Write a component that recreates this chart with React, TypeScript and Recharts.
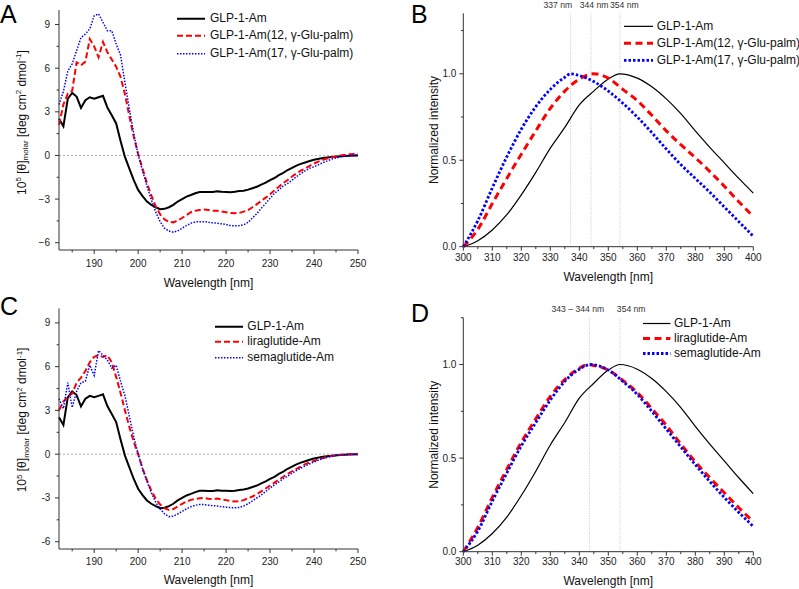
import React from 'react';
import { LineChart, Line, XAxis, YAxis, ReferenceLine, Legend } from 'recharts';

const FONT = '"Liberation Sans", Arial, Helvetica, sans-serif';
const AXIS = '#333';
const TEXT = '#222';

// ---------- CD spectra (panels A, C) ----------
const CD_WL = [
  182, 183, 184, 185, 186, 187, 188, 189, 190, 191,
  192, 193, 194, 195, 196, 197, 198, 199, 200, 201,
  202, 203, 204, 205, 206, 207, 208, 209, 210, 211,
  212, 213, 214, 215, 216, 217, 218, 219, 220, 221,
  222, 223, 224, 225, 226, 227, 228, 229, 230, 231,
  232, 233, 234, 235, 236, 237, 238, 239, 240,
  242, 244, 246, 248, 250,
];
const GLP1_CD = [
  2.53, 2.0, 3.9, 4.3, 4.05, 3.27, 3.8, 4.0, 3.9, 4.0,
  4.1, 3.3, 2.76, 2.2, 1.0, -0.1, -0.9, -1.7, -2.37, -2.8,
  -3.17, -3.4, -3.56, -3.7, -3.67, -3.56, -3.4, -3.17, -3.0, -2.83,
  -2.72, -2.6, -2.51, -2.51, -2.52, -2.52, -2.47, -2.5, -2.51, -2.53,
  -2.5, -2.45, -2.42, -2.35, -2.25, -2.15, -2.0, -1.87, -1.69, -1.55,
  -1.35, -1.2, -1.0, -0.85, -0.7, -0.58, -0.48, -0.38, -0.3,
  -0.18, -0.1, -0.05, -0.02, 0,
];
const A12_CD = [
  2.1, 3.5, 4.25, 4.45, 6.4, 6.2, 6.45, 8.0, 7.5, 6.75,
  7.8, 7.1, 6.6, 6.1, 5.4, 4.2, 2.7, 1.3, 0.1, -0.9,
  -1.9, -2.75, -3.5, -4.05, -4.4, -4.56, -4.6, -4.47, -4.3, -4.1,
  -3.9, -3.8, -3.75, -3.72, -3.75, -3.8, -3.8, -3.85, -3.9, -3.95,
  -3.97, -3.95, -3.86, -3.75, -3.56, -3.35, -3.13, -2.9, -2.67, -2.4,
  -2.15, -1.9, -1.69, -1.45, -1.23, -1.05, -0.89, -0.72, -0.55,
  -0.3, -0.12, 0.0, 0.08, 0.12,
];
const A17_CD = [
  3.5, 4.4, 5.8, 6.3, 7.2, 8.1, 8.35, 8.7, 9.6, 9.73,
  9.15, 8.58, 8.58, 7.67, 6.9, 5.0, 3.2, 1.5, 0.05, -1.05,
  -2.1, -3.05, -3.9, -4.55, -5.0, -5.2, -5.27, -5.18, -5.0, -4.82,
  -4.66, -4.57, -4.55, -4.55, -4.6, -4.63, -4.66, -4.7, -4.75, -4.82,
  -4.84, -4.82, -4.77, -4.6, -4.3, -4.0, -3.63, -3.3, -2.95, -2.6,
  -2.37, -2.1, -1.92, -1.7, -1.46, -1.25, -1.05, -0.88, -0.78,
  -0.5, -0.25, -0.1, -0.02, 0.05,
];
const LIRA_CD = [
  3.0, 3.6, 3.95, 4.15, 4.9, 5.25, 5.7, 6.3, 6.67, 6.78,
  6.67, 6.78, 6.3, 5.3, 4.2, 3.0, 1.87, 0.84, 0, -0.98,
  -1.78, -2.5, -3.05, -3.45, -3.7, -3.82, -3.76, -3.58, -3.4, -3.25,
  -3.13, -3.07, -3.02, -3.0, -3.05, -3.08, -3.04, -3.1, -3.15, -3.2,
  -3.25, -3.22, -3.15, -3.02, -2.9, -2.73, -2.55, -2.35, -2.15, -1.95,
  -1.75, -1.55, -1.35, -1.17, -1.0, -0.85, -0.68, -0.57, -0.46,
  -0.27, -0.12, -0.04, 0, 0,
];
const SEMA_CD = [
  3.8, 3.13, 4.9, 3.2, 4.3, 4.9, 5.0, 6.1, 5.4, 7.1,
  6.78, 6.45, 5.9, 6.1, 5.0, 4.0, 2.6, 1.19, 0, -1.0,
  -1.85, -2.65, -3.3, -3.75, -4.1, -4.28, -4.25, -4.1, -3.92, -3.75,
  -3.6, -3.5, -3.45, -3.45, -3.5, -3.53, -3.55, -3.6, -3.63, -3.66,
  -3.68, -3.65, -3.55, -3.4, -3.2, -3.0, -2.8, -2.55, -2.33, -2.1,
  -1.9, -1.68, -1.5, -1.3, -1.12, -0.95, -0.8, -0.66, -0.53,
  -0.3, -0.14, -0.05, 0, 0,
];

// ---------- Fluorescence spectra (panels B, D) ----------
const FL_WL_GLP = [300, 305, 310, 315, 320, 325, 330, 335, 340, 345, 350, 354, 360, 365, 370, 375, 380, 385, 390, 395, 400];
const GLP1_FL = [0, 0.035, 0.097, 0.185, 0.3, 0.43, 0.57, 0.69, 0.82, 0.9, 0.97, 1.0, 0.975, 0.925, 0.855, 0.77, 0.67, 0.575, 0.485, 0.395, 0.31];
const FL_WL_12 = [300, 305, 310, 315, 320, 325, 330, 335, 340, 345, 350, 355, 360, 365, 370, 375, 380, 385, 390, 395, 400];
const A12_FL = [0, 0.1, 0.25, 0.395, 0.535, 0.67, 0.8, 0.9, 0.97, 1.0, 0.975, 0.91, 0.845, 0.76, 0.67, 0.59, 0.515, 0.435, 0.35, 0.26, 0.175];
const FL_WL_17 = [300, 305, 310, 315, 320, 325, 330, 335, 337, 340, 345, 350, 355, 360, 365, 370, 375, 380, 385, 390, 395, 400];
const A17_FL = [0, 0.15, 0.34, 0.52, 0.68, 0.81, 0.91, 0.98, 1.0, 0.99, 0.955, 0.9, 0.83, 0.75, 0.66, 0.565, 0.475, 0.395, 0.315, 0.23, 0.145, 0.06];
const FL_WL_LIRA = [300, 305, 310, 315, 320, 325, 330, 335, 340, 343, 345, 350, 355, 360, 365, 370, 375, 380, 385, 390, 395, 400];
const LIRA_FL = [0, 0.13, 0.29, 0.44, 0.585, 0.71, 0.83, 0.92, 0.98, 1.0, 0.995, 0.97, 0.915, 0.85, 0.765, 0.675, 0.575, 0.48, 0.395, 0.315, 0.235, 0.16];
const FL_WL_SEMA = [300, 305, 310, 315, 320, 325, 330, 335, 340, 344, 350, 355, 360, 365, 370, 375, 380, 385, 390, 395, 400];
const SEMA_FL = [0, 0.11, 0.27, 0.42, 0.565, 0.69, 0.81, 0.91, 0.975, 1.0, 0.97, 0.91, 0.84, 0.75, 0.655, 0.56, 0.465, 0.375, 0.29, 0.21, 0.135];

// ---------- names, ticks, reference lines ----------
const NAMES_AB = ['GLP-1-Am', 'GLP-1-Am(12, \u03b3-Glu-palm)', 'GLP-1-Am(17, \u03b3-Glu-palm)'];
const NAMES_CD = ['GLP-1-Am', 'liraglutide-Am', 'semaglutide-Am'];

const CD_XTICKS = [185, 190, 195, 200, 205, 210, 215, 220, 225, 230, 235, 240, 245, 250];
const CD_XMAJOR = [190, 200, 210, 220, 230, 240, 250];
const CD_YTICKS = [-6, -4.5, -3, -1.5, 0, 1.5, 3, 4.5, 6, 7.5, 9];
const CD_YMAJOR = [-6, -3, 0, 3, 6, 9];
const FL_XTICKS = [300, 305, 310, 315, 320, 325, 330, 335, 340, 345, 350, 355, 360, 365, 370, 375, 380, 385, 390, 395, 400];
const FL_XMAJOR = [300, 310, 320, 330, 340, 350, 360, 370, 380, 390, 400];
const FL_YTICKS = [0, 0.25, 0.5, 0.75, 1.0, 1.25];
const FL_YMAJOR = [0, 0.5, 1.0];

const REF_B = [337, 344, 354];
const REF_B_LABELS = ['337 nm', '344 nm', '354 nm'];
const REF_D = [343.5, 354];
const REF_D_LABELS = ['343 \u2013 344 nm', '354 nm'];

// ---------- styles ----------
const CD_STYLES = [
  { color: '#000000', width: 2, dash: undefined as string | undefined },
  { color: '#ff0000', width: 2, dash: '6 3' },
  { color: '#0000ff', width: 1.5, dash: '1.5 1.5' },
];
const FL_STYLES = [
  { color: '#000000', width: 1.2, dash: undefined as string | undefined },
  { color: '#ff0000', width: 3, dash: '7 4.5' },
  { color: '#0000ff', width: 2.8, dash: '2.5 2' },
];

const toPoints = (xs: number[], ys: number[]) => xs.map((x, i) => ({ x, y: ys[i] }));
const near = (arr: number[], v: number) => arr.some((m) => Math.abs(m - v) < 1e-6);

function makeXTick(majors: number[], fmt: (v: number) => string, ts: number, tm: number) {
  return function XTick(props: any) {
    const { x, y, payload } = props;
    const v = payload.value;
    const major = near(majors, v);
    const y0 = y - ts - tm;
    return (
      <g>
        <line x1={x} x2={x} y1={y0} y2={y0 + (major ? ts : ts * 0.6)} stroke={AXIS} strokeWidth={1} />
        {major && (
          <text x={x} y={y} dy="0.71em" textAnchor="middle" fontSize={10} fontFamily={FONT} fill={TEXT}>
            {fmt(v)}
          </text>
        )}
      </g>
    );
  };
}

function makeYTick(majors: number[], fmt: (v: number) => string, ts: number, tm: number) {
  return function YTick(props: any) {
    const { x, y, payload } = props;
    const v = payload.value;
    const major = near(majors, v);
    const x0 = x + tm + ts;
    return (
      <g>
        <line x1={x0 - (major ? ts : ts * 0.6)} x2={x0} y1={y} y2={y} stroke={AXIS} strokeWidth={1} />
        {major && (
          <text x={x} y={y} dy="0.355em" textAnchor="end" fontSize={10} fontFamily={FONT} fill={TEXT}>
            {fmt(v)}
          </text>
        )}
      </g>
    );
  };
}

function XTitle(props: any) {
  const vb = props.viewBox || {};
  return (
    <text x={vb.x + vb.width / 2} y={vb.y + props.off} textAnchor="middle" fontSize={12} fontFamily={FONT} fill="#111">
      Wavelength [nm]
    </text>
  );
}

function CDYTitle(props: any) {
  const vb = props.viewBox || {};
  const cy = vb.y + vb.height / 2 + props.shift;
  const bx = props.bx;
  return (
    <text
      transform={`rotate(-90 ${bx} ${cy})`}
      x={bx}
      y={cy}
      textAnchor="middle"
      fontSize={12}
      fontFamily={FONT}
      fill="#111"
      style={{ whiteSpace: 'pre' }}
    >
      <tspan>10</tspan>
      <tspan dy={-4.5} fontSize={8}>5</tspan>
      <tspan dy={4.5}> [θ]</tspan>
      <tspan dy={2.5} fontSize={8}>molar</tspan>
      <tspan dy={-2.5}> [deg cm</tspan>
      <tspan dy={-4.5} fontSize={8}>2</tspan>
      <tspan dy={4.5}> dmol</tspan>
      <tspan dy={-4.5} fontSize={8}>-1</tspan>
      <tspan dy={4.5}>]</tspan>
    </text>
  );
}

function FLYTitle(props: any) {
  const vb = props.viewBox || {};
  const cy = vb.y + vb.height / 2 + props.shift;
  const bx = props.bx;
  return (
    <text transform={`rotate(-90 ${bx} ${cy})`} x={bx} y={cy} textAnchor="middle" fontSize={12} fontFamily={FONT} fill="#111">
      Normalized intensity
    </text>
  );
}

function RefLabel(props: any) {
  const vb = props.viewBox || {};
  return (
    <text x={vb.x + props.dx} y={vb.y - props.off} textAnchor="middle" fontSize={8.6} fontFamily={FONT} fill="#333">
      {props.text}
    </text>
  );
}

function LegendBox({ names, styles, rowH, sw, gap }: any) {
  return (
    <div style={{ fontFamily: FONT, fontSize: 12, color: '#111', whiteSpace: 'nowrap' }}>
      {names.map((n: string, i: number) => (
        <div key={n} style={{ height: rowH, display: 'flex', alignItems: 'center' }}>
          <svg width={sw} height={rowH} style={{ display: 'block', flex: 'none' }}>
            <line
              x1={0}
              x2={sw}
              y1={rowH / 2}
              y2={rowH / 2}
              stroke={styles[i].color}
              strokeWidth={styles[i].width}
              strokeDasharray={styles[i].dash}
            />
          </svg>
          <span style={{ marginLeft: gap, lineHeight: `${rowH}px` }}>{n}</span>
        </div>
      ))}
    </div>
  );
}

const fmtInt = (v: number) => String(v);
const fmtMinus = (v: number) => String(v).replace('-', '\u2212');
const fmt1 = (v: number) => v.toFixed(1);

function CDPanel(props: any) {
  const { left, top, height, plotTop, names, ys, yFmt, legend, xOff, yTitle, ytm, xtm } = props;
  const xAxisH = 40;
  const bottom = height - plotTop - props.plotH - xAxisH;
  return (
    <div style={{ position: 'absolute', left, top }}>
      <LineChart width={400} height={height} margin={{ top: plotTop, right: 42, bottom, left: 0 }}>
        <XAxis
          type="number"
          dataKey="x"
          domain={[182, 250]}
          ticks={CD_XTICKS}
          interval={0}
          tickLine={false}
          tickSize={4}
          tickMargin={xtm}
          tick={makeXTick(CD_XMAJOR, fmtInt, 4, xtm)}
          height={xAxisH}
          axisLine={{ stroke: AXIS, strokeWidth: 1 }}
          label={<XTitle off={xOff} />}
        />
        <YAxis
          type="number"
          domain={[-6.5, 10]}
          ticks={CD_YTICKS}
          interval={0}
          tickLine={false}
          tickSize={4}
          tickMargin={ytm}
          tick={makeYTick(CD_YMAJOR, yFmt, 4, ytm)}
          width={59}
          axisLine={{ stroke: AXIS, strokeWidth: 1 }}
          label={<CDYTitle bx={yTitle.bx} shift={yTitle.shift} />}
        />
        <ReferenceLine y={0} stroke="#999" strokeDasharray="2 2" strokeWidth={0.8} />
        {ys.map((arr: number[], i: number) => (
          <Line
            key={names[i]}
            data={toPoints(CD_WL, arr)}
            dataKey="y"
            name={names[i]}
            type="linear"
            stroke={CD_STYLES[i].color}
            strokeWidth={CD_STYLES[i].width}
            strokeDasharray={CD_STYLES[i].dash}
            dot={false}
            activeDot={false}
            isAnimationActive={false}
          />
        ))}
        <Legend
          layout="vertical"
          align="center"
          verticalAlign="middle"
          wrapperStyle={{ left: legend.left, top: legend.top, width: 'auto', height: 'auto', margin: 0, padding: 0 }}
          content={() => <LegendBox names={names} styles={CD_STYLES} rowH={legend.rowH} sw={legend.sw} gap={legend.gap} />}
        />
      </LineChart>
    </div>
  );
}

function FLPanel(props: any) {
  const { left, top, height, plotTop, plotH, yMax, series, names, refs, refLabels, refDx, refOff, legend, xOff, yTitle, xtm } = props;
  const xAxisH = 32;
  const bottom = height - plotTop - plotH - xAxisH;
  return (
    <div style={{ position: 'absolute', left, top }}>
      <LineChart width={399} height={height} margin={{ top: plotTop, right: 45.7, bottom, left: 0 }}>
        <XAxis
          type="number"
          dataKey="x"
          domain={[300, 400]}
          ticks={FL_XTICKS}
          interval={0}
          tickLine={false}
          tickSize={4}
          tickMargin={xtm}
          tick={makeXTick(FL_XMAJOR, fmtInt, 4, xtm)}
          height={xAxisH}
          axisLine={{ stroke: AXIS, strokeWidth: 1 }}
          label={<XTitle off={xOff} />}
        />
        <YAxis
          type="number"
          domain={[0, yMax]}
          ticks={FL_YTICKS}
          interval={0}
          tickLine={false}
          tickSize={4}
          tickMargin={3}
          tick={makeYTick(FL_YMAJOR, fmt1, 4, 3)}
          width={63.3}
          axisLine={{ stroke: AXIS, strokeWidth: 1 }}
          label={<FLYTitle bx={yTitle.bx} shift={yTitle.shift} />}
        />
        {refs.map((r: number, i: number) => (
          <ReferenceLine
            key={r}
            x={r}
            stroke="#c4c4c4"
            strokeDasharray="1 1.5"
            strokeWidth={1}
            label={<RefLabel text={refLabels[i]} dx={refDx[i]} off={refOff} />}
          />
        ))}
        {series.map((s: any, i: number) => (
          <Line
            key={names[i]}
            data={toPoints(s.xs, s.ys)}
            dataKey="y"
            name={names[i]}
            type="monotone"
            stroke={FL_STYLES[i].color}
            strokeWidth={FL_STYLES[i].width}
            strokeDasharray={FL_STYLES[i].dash}
            dot={false}
            activeDot={false}
            isAnimationActive={false}
          />
        ))}
        <Legend
          layout="vertical"
          align="center"
          verticalAlign="middle"
          wrapperStyle={{ left: legend.left, top: legend.top, width: 'auto', height: 'auto', margin: 0, padding: 0 }}
          content={() => <LegendBox names={names} styles={FL_STYLES} rowH={legend.rowH} sw={legend.sw} gap={legend.gap} />}
        />
      </LineChart>
    </div>
  );
}

export default function App() {
  return (
    <div style={{ position: 'absolute', left: 0, top: 0, width: 799, height: 589, background: '#fff', fontFamily: FONT, overflow: 'hidden' }}>
      <CDPanel
        left={0}
        top={0}
        height={295}
        plotTop={10}
        plotH={240}
        names={NAMES_AB}
        ys={[GLP1_CD, A12_CD, A17_CD]}
        yFmt={fmtMinus}
        xtm={6}
        ytm={5}
        xOff={37}
        yTitle={{ bx: 25.5, shift: -7.5 }}
        legend={{ left: 176.7, top: 9.5, rowH: 17.5, sw: 28.3, gap: 5 }}
      />
      <FLPanel
        left={400}
        top={0}
        height={295}
        plotTop={13.3}
        plotH={233.4}
        yMax={1.35}
        xtm={3.4}
        series={[
          { xs: FL_WL_GLP, ys: GLP1_FL },
          { xs: FL_WL_12, ys: A12_FL },
          { xs: FL_WL_17, ys: A17_FL },
        ]}
        names={NAMES_AB}
        refs={REF_B}
        refLabels={REF_B_LABELS}
        refDx={[-12.7, 3.2, 4.5]}
        refOff={5}
        xOff={34.3}
        yTitle={{ bx: 37.8, shift: 0 }}
        legend={{ left: 224, top: 18.3, rowH: 16.7, sw: 29.3, gap: 3.4 }}
      />
      <CDPanel
        left={0}
        top={295}
        height={294}
        plotTop={13.3}
        plotH={240.7}
        names={NAMES_CD}
        ys={[GLP1_CD, LIRA_CD, SEMA_CD]}
        yFmt={fmtInt}
        xtm={5}
        ytm={4.6}
        xOff={35.2}
        yTitle={{ bx: 26.5, shift: -8.7 }}
        legend={{ left: 215, top: 23.9, rowH: 15.5, sw: 28.3, gap: 4 }}
      />
      <FLPanel
        left={400}
        top={295}
        height={294}
        plotTop={22.7}
        plotH={234}
        yMax={1.25}
        xtm={2.4}
        series={[
          { xs: FL_WL_GLP, ys: GLP1_FL },
          { xs: FL_WL_LIRA, ys: LIRA_FL },
          { xs: FL_WL_SEMA, ys: SEMA_FL },
        ]}
        names={NAMES_CD}
        refs={REF_D}
        refLabels={REF_D_LABELS}
        refDx={[-11.6, 11.3]}
        refOff={5.8}
        xOff={33.5}
        yTitle={{ bx: 37.8, shift: 0 }}
        legend={{ left: 243.3, top: 20.8, rowH: 15, sw: 27.4, gap: 3.3 }}
      />
      <svg width={799} height={589} style={{ position: 'absolute', left: 0, top: 0, pointerEvents: 'none' }}>
        <text x={0} y={23} fontSize={25} fontFamily={FONT} fill="#000">A</text>
        <text x={411} y={23} fontSize={25} fontFamily={FONT} fill="#000">B</text>
        <text x={0} y={315} fontSize={25} fontFamily={FONT} fill="#000">C</text>
        <text x={411} y={321.7} fontSize={25} fontFamily={FONT} fill="#000">D</text>
      </svg>
    </div>
  );
}
